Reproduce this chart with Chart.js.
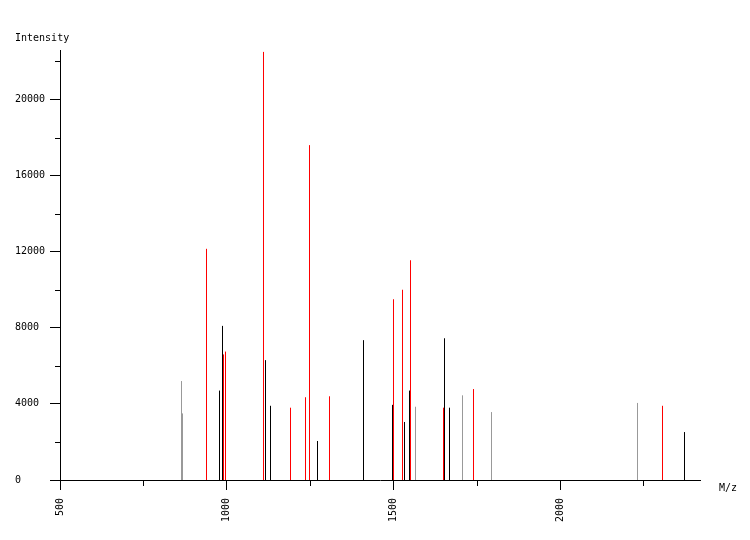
<!DOCTYPE html>
<html>
<head>
<meta charset="utf-8">
<script src="https://cdn.jsdelivr.net/npm/chart.js@4"></script>
<style>
html,body{margin:0;padding:0;background:#fff;}
#wrap{width:750px;height:540px;position:relative;}
</style>
</head>
<body>
<div id="wrap"><canvas id="c" width="750" height="540"></canvas></div>
<script>
// Peak data (m/z, intensity)
const redMz = [939.5, 990.5, 996.5, 1110.5, 1191.5, 1236.5, 1248.5, 1308.5, 1500.5, 1527.5, 1551.5, 1650.5, 1740.5, 2307.5];
const redInt = [12150, 6600, 6750, 22500, 3800, 4350, 17600, 4400, 9500, 10000, 11550, 3800, 4780, 3900];
const blackMz = [978.5, 987.5, 1116.5, 1131.5, 1272.5, 1410.5, 1497.5, 1533.5, 1548.5, 1653.5, 1668.5, 2373.5];
const blackInt = [4700, 8100, 6300, 3900, 2050, 7350, 3950, 3050, 4700, 7450, 3800, 2520];
const grayMz = [864.5, 867.5, 1566.5, 1707.5, 1794.5, 2232.5];
const grayInt = [5200, 3500, 3850, 4450, 3570, 4050];

// Axis ticks (labelled ones are in the label arrays)
const xTickValues = [500, 750, 1000, 1250, 1500, 1750, 2000, 2250];
const xTickLabels = [500, 1000, 1500, 2000];
const yTickValues = [0, 2000, 4000, 6000, 8000, 10000, 12000, 14000, 16000, 18000, 20000, 22000];
const yTickLabels = [0, 4000, 8000, 12000, 16000, 20000];
const xMin = 500, xMax = 2420;
const yMin = 0, yMax = 22600;
const xTitle = 'M/z';
const yTitle = 'Intensity';

const FONT = '"DejaVu Sans Mono", "Liberation Mono", monospace';

function sticks(mz, inten) {
  const pts = [];
  for (let i = 0; i < mz.length; i++) {
    pts.push({x: mz[i], y: 0});
    pts.push({x: mz[i], y: inten[i]});
    pts.push({x: mz[i], y: null});
  }
  return pts;
}

const isLab = (arr, v) => arr.indexOf(v) !== -1;

const extras = {
  id: 'extras',
  afterDraw(chart) {
    const ctx = chart.ctx;
    const xs = chart.scales.x, ys = chart.scales.y;
    ctx.save();
    ctx.strokeStyle = '#000';
    ctx.lineWidth = 1;
    ctx.beginPath();
    // minor (unlabelled) tick marks are shorter
    xTickValues.forEach(v => {
      if (isLab(xTickLabels, v)) return;
      const px = Math.round(xs.getPixelForValue(v)) + 0.5;
      ctx.moveTo(px, ys.bottom);
      ctx.lineTo(px, ys.bottom + 6);
    });
    yTickValues.forEach(v => {
      if (isLab(yTickLabels, v)) return;
      const py = Math.round(ys.getPixelForValue(v)) + 0.5;
      ctx.moveTo(xs.left - 5, py);
      ctx.lineTo(xs.left, py);
    });
    ctx.stroke();
    ctx.fillStyle = '#000';
    ctx.font = '10px ' + FONT;
    ctx.textBaseline = 'middle';
    ctx.textAlign = 'left';
    ctx.fillText(yTitle, 15, 38);
    ctx.fillText(xTitle, 719, 488);
    ctx.restore();
  }
};

new Chart(document.getElementById('c'), {
  type: 'line',
  data: {
    datasets: [
      {data: sticks(grayMz, grayInt), borderColor: '#999999'},
      {data: sticks(blackMz, blackInt), borderColor: '#000000'},
      {data: sticks(redMz, redInt), borderColor: '#ff0000'}
    ].map(d => Object.assign(d, {borderWidth: 1, pointRadius: 0, pointHoverRadius: 0, spanGaps: false, tension: 0, fill: false}))
  },
  options: {
    responsive: false,
    animation: false,
    events: [],
    layout: {padding: {top: 50, right: 50, left: 15, bottom: 0}},
    plugins: {legend: {display: false}, tooltip: {enabled: false}, title: {display: false}},
    scales: {
      x: {
        type: 'linear',
        min: xMin, max: xMax,
        afterFit(s) { s.height = 60; },
        afterBuildTicks(s) { s.ticks = xTickValues.map(v => ({value: v})); },
        border: {display: true, color: '#000', width: 1},
        grid: {
          drawOnChartArea: false, drawTicks: true, tickLength: 10,
          tickColor: c => (c.tick && isLab(xTickLabels, c.tick.value)) ? '#000' : 'rgba(0,0,0,0)'
        },
        ticks: {
          autoSkip: false,
          minRotation: 90, maxRotation: 90, padding: 8,
          color: '#000', font: {family: FONT, size: 10},
          callback: v => (isLab(xTickLabels, v) ? String(v) : '')
        }
      },
      y: {
        type: 'linear',
        min: yMin, max: yMax,
        afterFit(s) { s.width = 45; },
        afterBuildTicks(s) { s.ticks = yTickValues.map(v => ({value: v})); },
        border: {display: true, color: '#000', width: 1},
        grid: {
          drawOnChartArea: false, drawTicks: true, tickLength: 10,
          tickColor: c => (c.tick && isLab(yTickLabels, c.tick.value)) ? '#000' : 'rgba(0,0,0,0)'
        },
        ticks: {
          autoSkip: false,
          crossAlign: 'far', padding: 6,
          color: '#000', font: {family: FONT, size: 10},
          callback: v => (isLab(yTickLabels, v) ? String(v) : '')
        }
      }
    }
  },
  plugins: [extras]
});
</script>
</body>
</html>
